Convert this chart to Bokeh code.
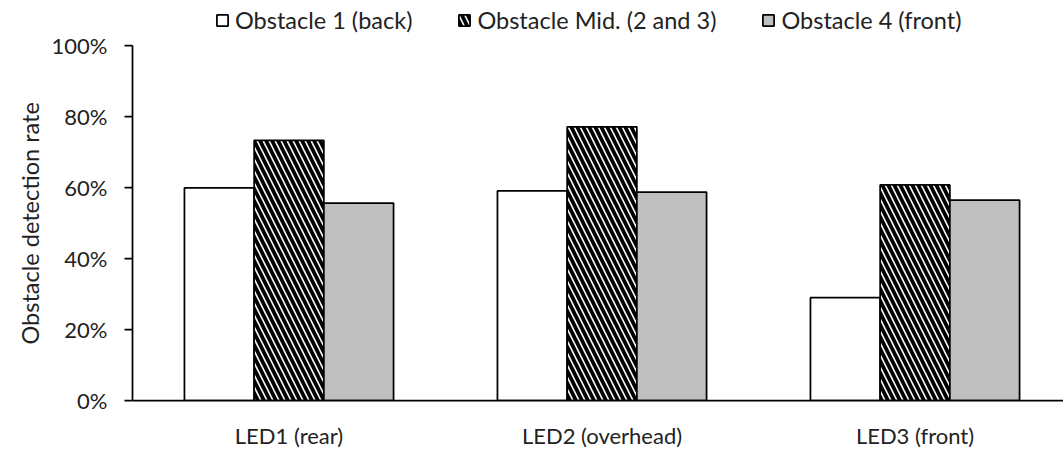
import numpy as np
from bokeh.plotting import figure
from bokeh.models import (ColumnDataSource, Range1d, FixedTicker, NumeralTickFormatter,
                          Legend, LegendItem, Title)
from bokeh.embed import file_html
from bokeh.resources import INLINE

categories = ["LED1 (rear)", "LED2 (overhead)", "LED3 (front)"]
series_names = ["Obstacle 1 (back)", "Obstacle Mid. (2 and 3)", "Obstacle 4 (front)"]
obstacle1_back = [0.600, 0.591, 0.290]
obstacle_mid = [0.734, 0.772, 0.608]
obstacle4_front = [0.557, 0.588, 0.565]
y_ticks = [0.0, 0.2, 0.4, 0.6, 0.8, 1.0]
y_title = "Obstacle detection rate"

FONT = "Lato"
TXT = "#222222"
FS = "22px"
bar_w = 0.2227
centers = np.arange(len(categories)) + 0.5

src = ColumnDataSource(dict(
    x1=centers - bar_w, x2=centers, x3=centers + bar_w,
    y1=obstacle1_back, y2=obstacle_mid, y3=obstacle4_front,
))

p = figure(width=1063, height=451, output_backend="svg", toolbar_location=None,
           x_range=Range1d(0, 2.9744), y_range=Range1d(0, 1.1283),
           min_border_left=132, min_border_right=0, min_border_top=0, min_border_bottom=49)
p.outline_line_color = None
p.xgrid.visible = False
p.ygrid.visible = False
p.background_fill_color = "white"

r1 = p.vbar(x="x1", top="y1", width=bar_w, source=src, fill_color="white",
            line_color="black", line_width=1.75)
r2 = p.vbar(x="x2", top="y2", width=bar_w, source=src, fill_color="white",
            line_color="black", line_width=1.75, hatch_pattern="\\",
            hatch_color="black", hatch_scale=12, hatch_weight=3.8)
r3 = p.vbar(x="x3", top="y3", width=bar_w, source=src, fill_color="#bfbfbf",
            line_color="black", line_width=1.75)

# axes
p.yaxis.ticker = FixedTicker(ticks=y_ticks)
p.yaxis.bounds = (0, 1)
p.yaxis.formatter = NumeralTickFormatter(format="0%")
p.yaxis.minor_tick_line_color = None
p.yaxis.major_tick_out = 8
p.yaxis.major_tick_in = 0
p.yaxis.axis_line_width = 1.75
p.yaxis.major_tick_line_width = 1.75
p.yaxis.axis_line_color = "black"
p.yaxis.major_label_standoff = 17
p.yaxis.major_label_text_font = FONT
p.yaxis.major_label_text_font_size = FS
p.yaxis.major_label_text_color = TXT

# y-axis title, anchored so it is centred on the 0-100% span
ytitle = Title(text=y_title, align="left", offset=56, text_font=FONT,
               text_font_size="23.5px", text_font_style="normal", text_color=TXT,
               standoff=10)
p.add_layout(ytitle, "left")

p.xaxis.ticker = FixedTicker(ticks=list(centers))
p.xaxis.major_label_overrides = {float(c): cat for c, cat in zip(centers, categories)}
p.xaxis.minor_tick_line_color = None
p.xaxis.major_tick_out = 0
p.xaxis.major_tick_in = 0
p.xaxis.axis_line_width = 1.75
p.xaxis.axis_line_color = "black"
p.xaxis.major_label_standoff = 21
p.xaxis.major_label_text_font = FONT
p.xaxis.major_label_text_font_size = FS
p.xaxis.major_label_text_color = TXT

legend = Legend(items=[
    LegendItem(label=series_names[0], renderers=[r1]),
    LegendItem(label=series_names[1], renderers=[r2]),
    LegendItem(label=series_names[2], renderers=[r3]),
], orientation="horizontal", location=(83, 366))
legend.glyph_width = 14
legend.glyph_height = 14
legend.label_standoff = 6
legend.spacing = 45
legend.padding = 0
legend.margin = 0
legend.border_line_color = None
legend.background_fill_alpha = 0
legend.label_text_font = FONT
legend.label_text_font_size = "23.5px"
legend.label_text_color = TXT
p.add_layout(legend, "center")

open("out.html", "w").write(file_html(p, INLINE))
